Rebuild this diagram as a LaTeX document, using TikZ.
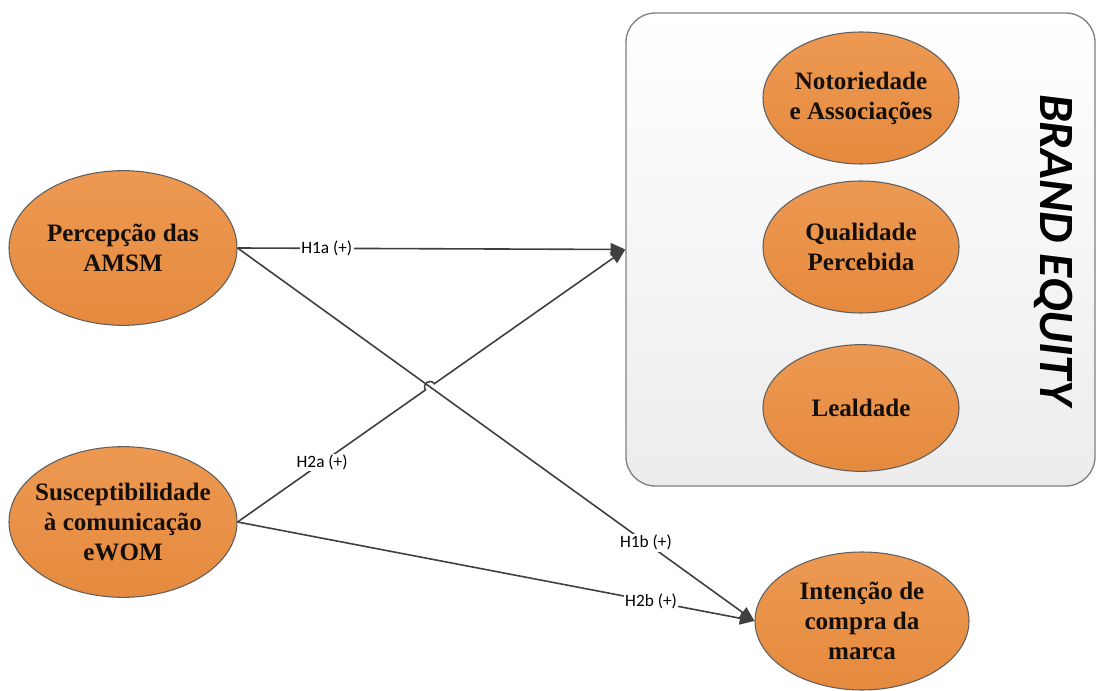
\documentclass[tikz,border=0pt]{standalone}
\usepackage{fontspec}
\setmainfont{Liberation Serif}
\newfontfamily\lblfont{Carlito}
\usetikzlibrary{arrows.meta,calc,shapes.geometric}
\definecolor{orA}{RGB}{237,153,82}
\definecolor{orB}{RGB}{229,138,62}
\definecolor{edgeC}{RGB}{95,95,95}
\definecolor{lineC}{RGB}{64,64,64}
\definecolor{boxB}{RGB}{236,236,236}
\definecolor{txtC}{RGB}{20,15,10}
\begin{document}
\begin{tikzpicture}[x=0.75pt,y=-0.75pt,
  construct/.style={ellipse, draw=edgeC, line width=0.8pt, top color=orA, bottom color=orB,
    inner xsep=-12pt, inner ysep=0pt, align=center, text=txtC, font=\fontsize{18.8}{22.5}\selectfont\bfseries},
  bigc/.style={construct, minimum width=171pt, minimum height=116pt},
  smallc/.style={construct, minimum width=147pt, minimum height=99pt},
  framebox/.style={draw=gray, line width=1pt, rounded corners=22pt, top color=white, bottom color=boxB,
    minimum width=351.75pt, minimum height=354.75pt, inner sep=0pt},
  conn/.style={draw=lineC, line width=1.2pt, -{Triangle[length=11pt,width=9.5pt]}},
  lbl/.style={fill=white, inner sep=1pt, font=\lblfont\fontsize{13}{15}\selectfont}
]
\useasboundingbox (0,0) rectangle (1096,691);
\node[framebox] (box) at (860.5,249.5) {};
\node[rotate=-90, font=\lblfont\bfseries\itshape\fontsize{37}{40}\selectfont] (be) at (1054,250) {BRAND EQUITY};
\node[smallc] (not) at (861,98) {Notoriedade\\e Associações};
\node[smallc] (qual) at (861,247) {Qualidade\\Percebida};
\node[smallc, minimum height=95pt] (leal) at (861,408) {Lealdade};
\node[bigc] (per) at (123,248) {Percepção das\\AMSM};
\node[bigc, minimum height=113pt] (sus) at (123,522) {Susceptibilidade\\à comunicação\\eWOM};
\node[construct, minimum width=160.5pt, minimum height=103.5pt] (int) at (862,621) {Intenção de\\compra da\\marca};
\draw[conn] (per.east) -- node[lbl,pos=0.23]{H1a (+)} (box.west);
\draw[conn] (per.east) -- node[lbl,pos=0.79]{H1b (+)} (int.west);
\draw[conn] (sus.east) -- node[lbl,pos=0.80]{H2b (+)} (int.west);
\coordinate (X) at (intersection of per.east--int.west and sus.east--box.west);
\draw[conn] (sus.east) -- node[lbl,pos=0.45]{H2a (+)} ($(X)!4pt!(sus.east)$)
  to[bend left=90, looseness=1.7] ($(X)!4pt!(box.west)$) -- (box.west);
\end{tikzpicture}
\end{document}
